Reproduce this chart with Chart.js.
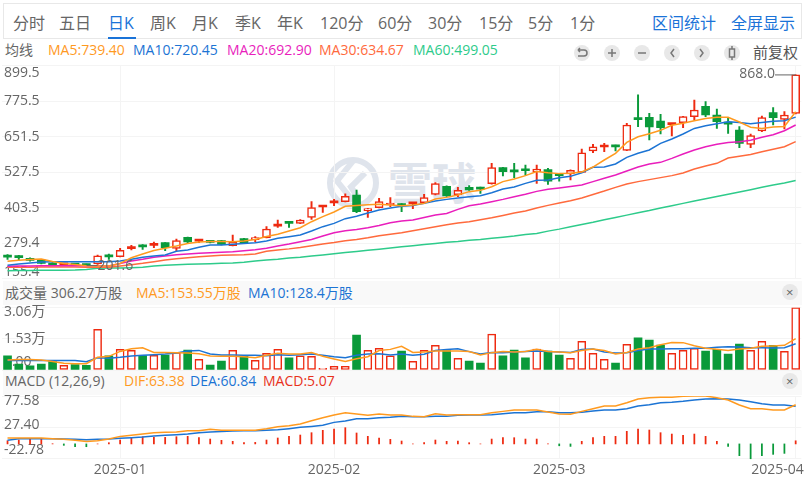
<!DOCTYPE html>
<html><head><meta charset="utf-8">
<script src="https://cdn.jsdelivr.net/npm/chart.js@4"></script>
<style>
html,body{margin:0;padding:0;background:#fff;width:807px;height:491px;overflow:hidden;font-family:"Open Sans","Noto Sans CJK SC",sans-serif;}
.a{position:absolute;white-space:nowrap;line-height:1;}
canvas{position:absolute;left:0;}
.tab{position:absolute;top:15px;font-size:16px;line-height:16px;color:#666;white-space:nowrap;}
.m{font-size:14px;top:43px;}
.band{position:absolute;left:3px;width:799px;background:#f9f9f9;}
.c{position:absolute;width:16px;height:16px;border-radius:50%;background:#e8e8e8;}
</style></head><body>
<div style="position:absolute;left:3px;top:3px;width:797px;height:34px;border:1px solid #e8e8e8"></div>
<div style="position:absolute;left:108px;top:37px;width:28px;height:2px;background:#1a73d8"></div>
<div class="tab" style="left:13px">分时</div><div class="tab" style="left:59px">五日</div>
<div class="tab" style="left:108px;color:#1a73d8">日K</div><div class="tab" style="left:150px">周K</div>
<div class="tab" style="left:192px">月K</div><div class="tab" style="left:235px">季K</div>
<div class="tab" style="left:277px">年K</div><div class="tab" style="left:320px">120分</div>
<div class="tab" style="left:378px">60分</div><div class="tab" style="left:428px">30分</div>
<div class="tab" style="left:479px">15分</div><div class="tab" style="left:528px">5分</div>
<div class="tab" style="left:570px">1分</div>
<div class="tab" style="left:652px;color:#1a73d8">区间统计</div><div class="tab" style="left:731px;color:#1a73d8">全屏显示</div>

<div class="a m" style="left:5px;color:#666">均线</div>
<div class="a m" style="left:48px;color:#ff9a1f">MA5:739.40</div>
<div class="a m" style="left:133px;color:#1c74d4">MA10:720.45</div>
<div class="a m" style="left:227px;color:#e91ebc">MA20:692.90</div>
<div class="a m" style="left:319px;color:#ff6a3d">MA30:634.67</div>
<div class="a m" style="left:413px;color:#2ecb8b">MA60:499.05</div>

<svg style="position:absolute;left:570px;top:42px" width="175" height="22" fill="none" stroke="#777" stroke-width="1.5">
<circle cx="12" cy="11" r="8" fill="#e8e8e8" stroke="none"/><circle cx="42" cy="11" r="8" fill="#e8e8e8" stroke="none"/>
<circle cx="72" cy="11" r="8" fill="#e8e8e8" stroke="none"/><circle cx="102" cy="11" r="8" fill="#e8e8e8" stroke="none"/>
<circle cx="132" cy="11" r="8" fill="#e8e8e8" stroke="none"/><circle cx="162" cy="11" r="8" fill="#e8e8e8" stroke="none"/>
<path d="M8 8h6a3 3 0 0 1 0 6H8M8 8l2-2M8 8l2 2"/><path d="M38 11h8M42 7v8"/><path d="M68 11h8"/>
<path d="M104 7l-3 4 3 4"/><path d="M130 7l3 4-3 4"/><rect x="159.5" y="7" width="5" height="8"/><path d="M162 4v3M162 15v3"/>
</svg>
<div class="a" style="left:753px;top:45px;font-size:15px;color:#555">前复权</div>

<svg style="position:absolute;left:325px;top:155px" width="56" height="56" fill="none" stroke="#dfe4ec" stroke-width="6">
<circle cx="28" cy="28" r="23"/><path d="M28 6L12 26l16 20M40 18L26 32l8 12"/>
</svg>
<div class="a" style="left:388px;top:159px;font-size:44px;font-weight:700;color:#dfe4ec;font-family:'Noto Sans CJK SC'">雪球</div>

<div class="band" style="top:281px;height:24px"></div>
<div class="a" style="left:5px;top:286px;font-size:14px;color:#666">成交量 306.27万股</div>
<div class="a" style="left:136px;top:286px;font-size:14px;color:#ff9a1f">MA5:153.55万股</div>
<div class="a" style="left:248px;top:286px;font-size:14px;color:#1c74d4">MA10:128.4万股</div>
<div class="c" style="left:782px;top:284px"></div><div class="a" style="left:786px;top:286px;font-size:13px;color:#666">×</div>

<div class="band" style="top:371px;height:24px"></div>
<div class="a" style="left:5px;top:374px;font-size:14px;color:#666">MACD (12,26,9)</div>
<div class="a" style="left:124px;top:374px;font-size:14px;color:#ff9a1f">DIF:63.38</div>
<div class="a" style="left:190px;top:374px;font-size:14px;color:#1c74d4">DEA:60.84</div>
<div class="a" style="left:263px;top:374px;font-size:14px;color:#e8321c">MACD:5.07</div>
<div class="c" style="left:782px;top:373px"></div><div class="a" style="left:786px;top:375px;font-size:13px;color:#666">×</div>

<canvas id="p" width="807" height="224" style="top:60px"></canvas>
<canvas id="v" width="807" height="76" style="top:300px"></canvas>
<canvas id="d" width="807" height="101" style="top:390px"></canvas>

<script>
const categories = ["2024-12-16","2024-12-17","2024-12-18","2024-12-19","2024-12-20","2024-12-23","2024-12-24","2024-12-27","2024-12-30","2024-12-31",
"2025-01-02","2025-01-03","2025-01-06","2025-01-07","2025-01-08","2025-01-09","2025-01-10","2025-01-13","2025-01-14","2025-01-15","2025-01-16","2025-01-17","2025-01-20","2025-01-21","2025-01-22","2025-01-23","2025-01-24","2025-01-27","2025-01-28",
"2025-02-03","2025-02-04","2025-02-05","2025-02-06","2025-02-07","2025-02-10","2025-02-11","2025-02-12","2025-02-13","2025-02-14","2025-02-17","2025-02-18","2025-02-19","2025-02-20","2025-02-21","2025-02-24","2025-02-25","2025-02-26","2025-02-27","2025-02-28",
"2025-03-03","2025-03-04","2025-03-05","2025-03-06","2025-03-07","2025-03-10","2025-03-11","2025-03-12","2025-03-13","2025-03-14","2025-03-17","2025-03-18","2025-03-19","2025-03-20","2025-03-21","2025-03-24","2025-03-25","2025-03-26","2025-03-27","2025-03-28","2025-03-31",
"2025-04-01"];
const monthStarts = ["2025-01-02","2025-02-03","2025-03-03","2025-04-01"];

const open = [232.5,231,227,221,209.4,204,207,206,207,233,232.7,261,268,272,281.7,261.9,300.3,287,288.7,288.7,271.2,295.7,292.2,299.1,
339.5,354,349.3,370.2,406.5,421,425,448.3,393.5,404,413.3,416.8,417,421.5,450.6,478.6,449.4,475,470,487.9,543.8,530,534,529.8,
536.8,520.5,521.6,527.5,602,616,618,604.4,714,719.7,706.9,694,701,722,758,727.8,697.5,675.4,625.3,672,736,712.7,733.7];
const close = [231,229.5,220,209.4,203.6,206,203,202,236,232,254.9,263,267,273,264.2,288.7,284,288.5,282.8,275.9,284,281.7,298,329.4,
341,349.3,360.9,404,408,422.5,443.6,390,399.3,425,416.8,411,418.5,439,487.9,444.8,464.6,465.8,469,543.8,529.8,529,533,539.2,
497,515.8,534.5,596,617,617.5,616.5,692.9,712,686,683.6,695.5,722,745.3,727.8,704.5,696,628.8,655.6,718.5,718.5,727.8,868];
const low = [223.4,221,217,207,202,203,201.6,201.6,206,223,232,256,258,264,253.7,253.7,278,281.7,281,274,270,280,285,298,
335,335.3,348,363,387.7,411,424,386.5,370,403,407.5,390,400.5,420,449,443,442.5,464,454,486,514.7,509,518,489,
485.5,497,500.7,526,596,600,602,603,687,640.5,661.5,654.5,683.6,710,722,681,663.8,613.7,613.7,669.6,693,679,732];
const high = [239.7,237.4,229,222,212,207,208,207,238,242,262,272.4,274.7,284,282,294.5,301,293.3,290,290,308.5,297,302.6,337.6,
361,355,362,425,412,433,452,465.8,402,436.6,439,418,421,450.6,491.4,480,475,481,476,559,545,559,553,553,
541.5,523,536,609,625.3,629,623,699,798,733.7,730,699,723,780.3,774.5,748.8,718.5,687,661.5,724.3,753.5,739.5,868];

const ma5 = [216.4,220,223,224.6,216,209,205,201,200,200,209,229,242,254,262,270,279,284,286,286,285,287.5,293,303,
311,322.5,334,355,372.5,389,409,412,414.5,416,413,411,413.5,419,434,440,448,460,464.5,477,495,504,516,530,
526,523,524,529,546,570.6,594,632,652,662.6,674.3,692,699,708,716,720,720,703.4,685,681,686,688,739.4];
const ma10 = [202.5,207,210.6,214,215,215,215,215,215,215,217.6,223.4,230.4,235,238.6,251.4,256,265.4,273.5,273.5,276,279,281.7,287.5,
297,302.6,308.5,322.5,337.6,349,365.6,373.7,385.4,396,403,408.7,412,419,427,433,438,442.5,446,456.4,469,476,489,499.5,
500.7,508.8,513.5,526.3,545,546,556.6,580,594,605.5,628.8,644,661.4,681,690.6,697.6,704.5,702,697.6,702,705.7,708,720.45];
const ma20 = [199,200,200,201,201,201,201,201,201,200,209,217.6,223.4,230.4,235,239.7,242,244.4,246.7,248,250,253.7,257.2,262,
270,277,285,293,305,316.6,323.6,328,334,342,351.6,357.4,361,370,378.4,384,398,411,417,425,433,442.5,450.6,461,
468,473,478,483,495,506.5,518,532,546,556.6,562.4,576.4,591.5,605.5,617,625.3,632,634.6,639.3,649.8,659,673,692.9];
const ma30 = [196,196,196,197,197,197,197,196,195.5,195.5,200,204.8,209.4,215,221,225.8,229,232.7,235,237.4,238.6,239.7,242,251.4,
256,260,265,271,277,282,288,293,299,306,311,316.6,323.6,330.6,337.6,344.6,350.4,355,362,369,377,385.4,392.4,403,
412,420,428,438,450,462,475,487,495,502,509,516,525,539,549.6,559,577.6,583.4,590,599.7,607.9,617,634.67];
const ma60 = [183.8,184,184.5,185,185,185.5,186,188,192,193,193,194.3,195.5,200,202.5,204.8,206,207,208,209.4,210.6,213,217.6,221,
224,228,231,235,239,243,247,251,255,259,263,267,271,275,279,283,286,290,293,297,301,305,310,314,
322,329,337,345,353,362,370,378,386,394,403,411,419,427,435,443,451,459,467,475,483,490,499.05];

const volume = [.69,.29,.20,.29,.41,.23,.26,.23,1.99,.69,1.01,.96,.70,.72,.73,.85,.98,.52,.24,.44,.96,.69,.47,.82,
1.01,.59,.69,.67,.08,.18,.18,1.71,.96,1.06,.69,.93,.42,.96,1.21,.95,.57,.44,.34,1.76,.69,.98,.59,1.03,
.93,.73,.57,1.40,.82,.52,.34,1.26,1.57,1.47,1.22,.82,.96,1.06,.93,1.01,.78,1.27,.96,1.40,1.21,.91,3.06];
const volMa5 = [.49,.52,.52,.49,.42,.33,.31,.31,.62,.67,.91,1.04,1.09,.86,.86,.85,.83,.80,.69,.67,.67,.65,.60,.72,
.82,.78,.78,.86,.67,.54,.42,.55,.65,.95,1.01,1.16,.86,.88,.93,.93,.93,.90,.73,.85,.90,.88,.91,1.01,
.91,.88,.85,.95,1.03,.95,.78,.86,1.03,1.09,1.24,1.35,1.34,1.19,1.06,1.01,.95,1.03,1.06,1.16,1.18,1.21,1.5355];
const volMa10 = [.46,.46,.47,.47,.47,.47,.47,.41,.60,.57,.62,.69,.72,.75,.78,.83,.93,.96,.78,.73,.73,.72,.72,.70,
.75,.72,.75,.78,.72,.65,.60,.72,.78,.80,.73,.78,.72,.77,.95,1.00,1.04,.90,.78,.86,.85,.88,.91,.93,
.91,.88,.86,1.00,1.03,.88,.83,.85,.95,1.03,1.03,1.04,1.04,1.06,1.06,1.11,1.14,1.13,1.09,1.09,1.08,1.09,1.284];

const dif = [9.5,9.5,9.5,9.5,8.5,7.4,5.8,4.1,5.2,7.9,12.2,13.9,16,18.2,18.7,19.3,21.4,21.4,23.6,22,22,22,22,24.7,27.9,29.5,32.2,37.6,42.5,46.8,50.6,48.4,46.3,48.4,46.8,
46.8,44.6,44.1,49,46.8,47.3,47.3,47.3,50.6,52.7,54.9,54.9,54.9,51.7,48.4,47.9,52.7,57.1,61.4,61.4,66.8,72.7,74.9,75.4,75.4,77,77.5,77.5,74.9,71.1,63,57.1,57.1,54.9,54.9,63.38];
const dea = [5.8,8.5,8.5,8.5,8.5,7.9,7.4,6.8,7.4,7.9,9,10.1,11.2,12.8,13.9,14.9,16,18.2,19.3,20.3,20.9,21.4,21.4,22,23,24.7,26.8,28.4,30.1,34.9,37.1,40.9,40.9,42.5,43,
44.6,44.1,44.1,44.6,44.6,46.3,46.8,46.8,47.3,49,50.6,50.6,52.2,52.2,50.6,50.6,51.1,53.3,54.9,54.9,57.1,61.4,63.5,66.8,67.3,68.9,71.1,72.7,73.3,72.7,71.1,68.4,65.2,63,63,60.84];
const macd = [5.2,6.3,7.4,7.4,.3,-2.3,-4.5,-4.5,0,2,6.3,9.6,11.7,10.6,10.6,11.7,12.3,10.1,7.9,5.8,4.2,2,2.5,6.3,9.6,12.3,14.4,18.2,22,24.1,26.3,17.7,12.3,9.6,7.4,
4.7,0,2,6.3,4.2,4.7,2,0,7.9,10.1,10.1,7.9,7.9,0,-3,-4,4.2,10.1,12.3,12.3,20.4,24.1,22.5,18.2,16,13.9,16,12.3,4.2,-4,-19,-24,-19,-16.9,-15.3,5.07];

const priceTicks = [155.4,279.4,403.5,527.5,651.5,775.5,899.5];
const volumeTicks = [0,1.53,3.06];
const macdTicks = [-22.78,27.40,77.58];

const RED='#ee2a10', GREEN='#0a9a3a', ORANGE='#ff9a1f', BLUE='#1c74d4', MAGENTA='#e91ebc', CORAL='#ff6a3d', MINT='#2ecb8b';
const TXT='#666', GRID='#f4f4f4', FAMILY='"Open Sans","Noto Sans CJK SC",sans-serif';
const PAD_L=1.9, PAD_R=5.7;
const isMonth = l => monthStarts.includes(l);

function line(data,color){return {type:'line',data,borderColor:color,backgroundColor:color,borderWidth:1.5,pointRadius:0,tension:0};}
function xAxis(showLabels,height){
  return {type:'category',offset:true,
    grid:{offset:false,color:GRID,drawTicks:false},border:{display:false},
    ticks:{display:showLabels,autoSkip:false,maxRotation:0,minRotation:0,padding:4,color:TXT,font:{family:FAMILY,size:14},
      callback(v){const l=this.getLabelForValue(v).slice(0,7);return l==='2025-04'?l+'\u00a0'.repeat(10):l;}},
    afterBuildTicks:s=>{s.ticks=s.ticks.filter(t=>isMonth(categories[t.value]));},
    afterFit:s=>{s.height=height;s.paddingLeft=0;s.paddingRight=0;}};
}
function yAxis(ticks,min,max,labels,shifts){
  return {type:'linear',min,max,position:'left',
    grid:{color:GRID,drawTicks:false},border:{display:false},
    afterBuildTicks:s=>{s.ticks=ticks.map(value=>({value}));},
    afterFit:s=>{s.width=0;s.paddingTop=0;s.paddingBottom=0;},
    ticks:{mirror:true,padding:2,color:TXT,autoSkip:false,
      font:c=>{const sh=c.tick?shifts[c.tick.value]:null;return {family:FAMILY,size:14,lineHeight:(sh?sh.h:14)+'px'};},
      callback(v){const t=labels(v),sh=shifts[v];return sh?(sh.d>0?['',t]:[t,'']):t;}}};
}
const base={responsive:false,animation:false,events:[],plugins:{legend:{display:false},tooltip:{enabled:false}}};

const extremes={id:'extremes',afterDatasetsDraw(ch){
  const {ctx,scales:{x,y}}=ch;
  const hi=Math.max(...high), lo=Math.min(...low);
  const hx=x.getPixelForValue(high.indexOf(hi)), lx=x.getPixelForValue(low.indexOf(lo)+2);
  ctx.save();ctx.font='14px '+FAMILY;ctx.fillStyle=TXT;ctx.strokeStyle='#666';ctx.lineWidth=1;ctx.textBaseline='middle';
  ctx.textAlign='right';const hy=y.getPixelForValue(hi);
  ctx.beginPath();ctx.moveTo(775,hy);ctx.lineTo(hx,hy);ctx.stroke();ctx.fillText(hi.toFixed(1),775,hy-1);
  ctx.textAlign='left';const ly=y.getPixelForValue(lo);
  ctx.beginPath();ctx.moveTo(lx-11,ly);ctx.lineTo(lx,ly);ctx.stroke();ctx.fillText(lo.toFixed(1),lx,ly);
  ctx.restore();
}};

new Chart(document.getElementById('p'),{
  plugins:[extremes],
  data:{labels:categories,datasets:[
    line(ma5,ORANGE),line(ma10,BLUE),line(ma20,MAGENTA),line(ma30,CORAL),line(ma60,MINT),
    {type:'bar',data:categories.map((_,i)=>[open[i],close[i]]),grouped:false,barThickness:8,minBarLength:2,borderSkipped:false,
      borderWidth:c=>close[c.dataIndex]>open[c.dataIndex]+3?1.5:0,
      borderColor:RED,
      backgroundColor:c=>{const i=c.dataIndex;if(close[i]<=open[i])return GREEN;return close[i]>open[i]+3?'#fff':RED;}},
    {type:'bar',data:categories.map((_,i)=>[low[i],high[i]]),grouped:false,barThickness:1.3,borderWidth:0,
      backgroundColor:c=>close[c.dataIndex]>open[c.dataIndex]?RED:GREEN}
  ]},
  options:{...base,layout:{padding:{left:PAD_L,right:PAD_R,top:5.9,bottom:5.2}},
    scales:{x:xAxis(false,0),y:yAxis(priceTicks,155.4,899.5,v=>v.toFixed(1),{155.4:{d:-1,h:14},899.5:{d:1,h:14}})}}
});

new Chart(document.getElementById('v'),{
  data:{labels:categories,datasets:[
    line(volMa5,ORANGE),line(volMa10,BLUE),
    {type:'bar',data:volume,barThickness:8,borderSkipped:false,
      borderWidth:c=>close[c.dataIndex]>open[c.dataIndex]?1.5:0,
      borderColor:RED,backgroundColor:c=>close[c.dataIndex]>open[c.dataIndex]?'#fff':GREEN}
  ]},
  options:{...base,layout:{padding:{left:PAD_L,right:PAD_R,top:7.5,bottom:6}},
    scales:{x:xAxis(false,0),y:yAxis(volumeTicks,0,3.06,v=>v===0?'0.00':v.toFixed(2)+'万',{3.06:{d:1,h:10},0:{d:-1,h:16}})}}
});

new Chart(document.getElementById('d'),{
  data:{labels:categories,datasets:[
    line(dif,ORANGE),line(dea,BLUE),
    {type:'bar',data:macd,barThickness:1.1,borderWidth:0,clip:false,
      backgroundColor:c=>macd[c.dataIndex]>=0?RED:GREEN}
  ]},
  options:{...base,layout:{padding:{left:PAD_L,right:PAD_R,top:6,bottom:0}},
    scales:{x:xAxis(true,33),y:yAxis(macdTicks,-22.78,77.58,v=>v.toFixed(2),{77.58:{d:1,h:10},27.4:{d:-1,h:4},'-22.78':{d:-1,h:16}})}}
});
</script>
</body></html>
